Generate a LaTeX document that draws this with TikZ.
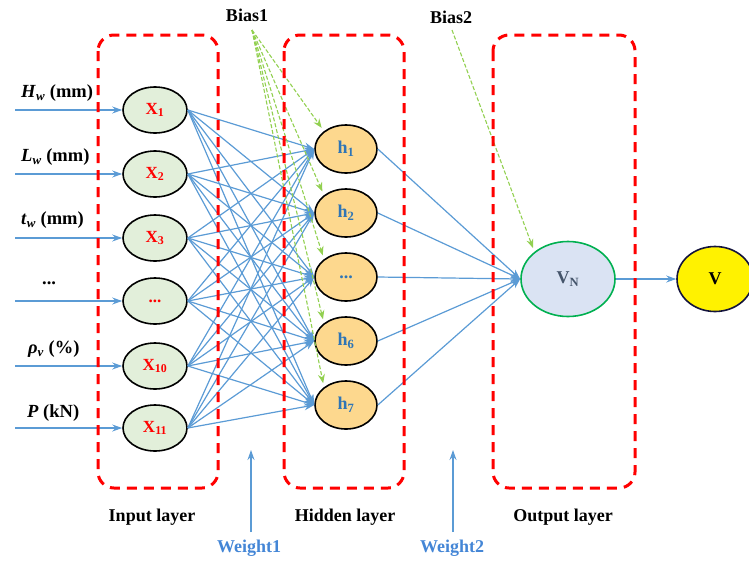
\documentclass[tikz,border=0pt]{standalone}
\usepackage{fontspec}
\setmainfont{Liberation Serif}
\usetikzlibrary{shapes.geometric,arrows.meta}
\definecolor{ingreen}{RGB}{226,239,218}
\definecolor{hidorange}{RGB}{253,216,142}
\definecolor{vnfill}{RGB}{218,227,243}
\definecolor{vnborder}{RGB}{0,176,80}
\definecolor{linkblue}{RGB}{91,155,213}
\definecolor{biasgreen}{RGB}{146,208,80}
\definecolor{hblue}{RGB}{46,117,182}
\definecolor{wblue}{RGB}{68,134,214}
\definecolor{vnblue}{RGB}{68,84,106}
\definecolor{vnavy}{RGB}{20,20,60}
\definecolor{boxred}{RGB}{255,0,0}
\tikzset{
  layerbox/.style={draw=boxred, line width=3pt, dash pattern=on 10pt off 7pt, rounded corners=16pt},
  innode/.style={ellipse, draw=black, line width=1.6pt, fill=ingreen, minimum width=64pt, minimum height=46pt, inner sep=0pt,
     text=boxred, font=\fontsize{17}{19}\selectfont\bfseries},
  hidnode/.style={ellipse, draw=black, line width=1.6pt, fill=hidorange, minimum width=62pt, minimum height=48pt, inner sep=0pt,
     text=hblue, font=\fontsize{18}{20}\selectfont\bfseries},
  conn/.style={draw=linkblue, line width=1.2pt, -{Stealth[length=10pt,width=7pt]}},
  biasline/.style={draw=biasgreen, line width=1.1pt, dash pattern=on 4pt off 2pt, -{Stealth[length=9pt,width=7pt]}, shorten >=4pt},
  inlabel/.style={anchor=west, inner sep=0pt, font=\fontsize{18.5}{20}\selectfont\bfseries},
  layerlabel/.style={inner sep=0pt, font=\fontsize{18}{20}\selectfont\bfseries},
  wlabel/.style={inner sep=0pt, text=wblue, font=\fontsize{18}{20}\selectfont\bfseries}
}
\begin{document}
\begin{tikzpicture}[x=1pt,y=-1pt]
\useasboundingbox (0,0) rectangle (749,560);

% input nodes
\node[innode] (x1) at (155,110) {X\textsubscript{1}};
\node[innode] (x2) at (155,174) {X\textsubscript{2}};
\node[innode] (x3) at (155,238) {X\textsubscript{3}};
\node[innode] (x4) at (155,301) {...};
\node[innode] (x5) at (155,366) {X\textsubscript{10}};
\node[innode] (x6) at (155,428) {X\textsubscript{11}};

% hidden nodes
\node[hidnode] (h1) at (346,149) {h\textsubscript{1}};
\node[hidnode] (h2) at (346,213) {h\textsubscript{2}};
\node[hidnode] (h3) at (346,277) {...};
\node[hidnode] (h4) at (346,341) {h\textsubscript{6}};
\node[hidnode] (h5) at (346,405) {h\textsubscript{7}};

% output nodes
\node[ellipse, draw=vnborder, line width=1.6pt, fill=vnfill, minimum width=94pt, minimum height=75pt, inner sep=0pt,
      text=vnblue, font=\fontsize{18}{20}\selectfont\bfseries] (vn) at (568,279) {V\textsubscript{N}};
\node[ellipse, draw=vnavy, line width=1.6pt, fill=yellow, minimum width=76pt, minimum height=65pt, inner sep=0pt,
      font=\fontsize{18}{20}\selectfont\bfseries] (v) at (715,279) {V};

% input arrows and labels
\foreach \i/\y in {1/110,2/174,3/238,4/301,5/366,6/428}{
  \coordinate (in\i) at (15,\y);
  \draw[conn] (in\i) -- (x\i);
}
\node[inlabel] (l1) at (21,93) {\textit{H}\textsubscript{\textit{w}} (mm)};
\node[inlabel] (l2) at (21,157) {\textit{L}\textsubscript{\textit{w}} (mm)};
\node[inlabel] (l3) at (21,220) {\textit{t}\textsubscript{\textit{w}} (mm)};
\node[inlabel] (l4) at (42,283) {...};
\node[inlabel] (l5) at (28,349) {\textit{ρ}\textsubscript{\textit{v}} (\%)};
\node[inlabel] (l6) at (27,413) {\textit{P} (kN)};

% input -> hidden
\foreach \i in {1,...,6}{
  \foreach \j in {1,...,5}{
    \draw[conn] (x\i.east) -- (h\j.west);
  }
}
% hidden -> output
\foreach \j in {1,...,5}{
  \draw[conn] (h\j.east) -- (vn.west);
}
\draw[conn] (vn.east) -- (v.west);

% bias
\node[layerlabel] (b1) at (247,15) {Bias1};
\node[layerlabel] (b2) at (451,17) {Bias2};
\coordinate (b1o) at (252,30);
\coordinate (b2o) at (452,30);
\foreach \j in {1,...,5}{
  \draw[biasline] (b1o) -- (h\j.141);
}
\draw[biasline] (b2o) -- (vn.141);

% layer boxes
\draw[layerbox] (98,35) rectangle (218,488);
\draw[layerbox] (284,35) rectangle (404,488);
\draw[layerbox] (493,35) rectangle (635,488);

% layer labels
\node[layerlabel] (il) at (152,517) {Input layer};
\node[layerlabel] (hl) at (345,517) {Hidden layer};
\node[layerlabel] (ol) at (563,517) {Output layer};

% weights
\node[wlabel] (w1) at (249,548) {Weight1};
\node[wlabel] (w2) at (452,548) {Weight2};
\coordinate (w1a) at (251,532);
\coordinate (w1b) at (251,450);
\coordinate (w2a) at (453,532);
\coordinate (w2b) at (453,450);
\draw[conn] (w1a) -- (w1b);
\draw[conn] (w2a) -- (w2b);
\end{tikzpicture}
\end{document}
